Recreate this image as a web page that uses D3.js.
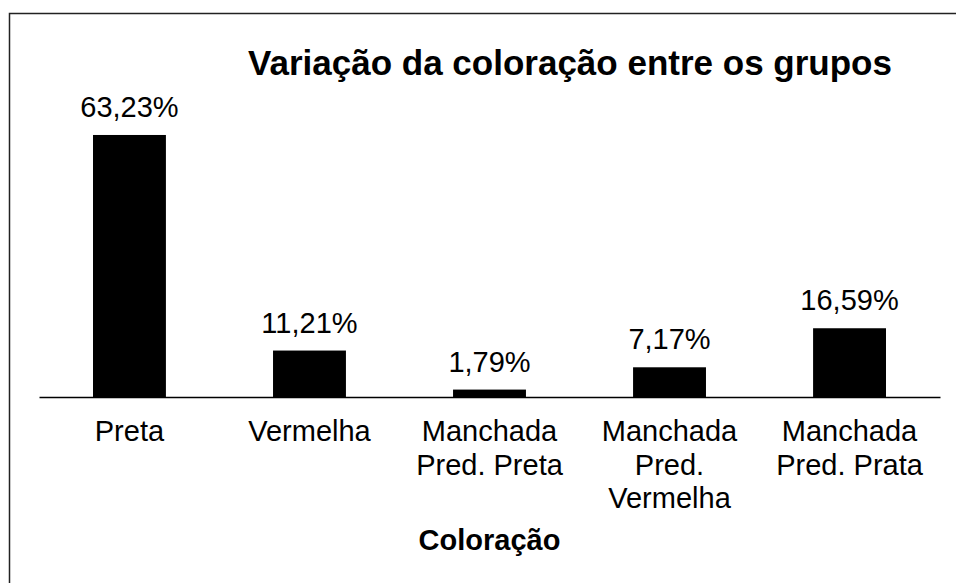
<!DOCTYPE html>
<html>
<head>
<meta charset="utf-8">
<script src="https://cdn.jsdelivr.net/npm/d3@7"></script>
<style>
  body { margin: 0; background: #fff; }
  svg text { font-family: Arial, "Liberation Sans", sans-serif; fill: #000; }
</style>
</head>
<body>
<script>
// data
const categories = ['Preta', 'Vermelha', 'Manchada Pred. Preta', 'Manchada Pred. Vermelha', 'Manchada Pred. Prata'];
const categoryLines = [['Preta'], ['Vermelha'], ['Manchada', 'Pred. Preta'], ['Manchada', 'Pred.', 'Vermelha'], ['Manchada', 'Pred. Prata']];
const values = [63.23, 11.21, 1.79, 7.17, 16.59];
const valueLabels = ['63,23%', '11,21%', '1,79%', '7,17%', '16,59%'];
const title = 'Variação da coloração entre os grupos';
const xTitle = 'Coloração';

const width = 956;
const height = 583;

const svg = d3.select('body').append('svg')
  .attr('width', width)
  .attr('height', height);

// outer frame (runs off the right/bottom edge like the original)
svg.append('rect')
  .attr('x', 9.5)
  .attr('y', 13.5)
  .attr('width', 1000)
  .attr('height', 700)
  .attr('fill', 'none')
  .attr('stroke', '#222')
  .attr('stroke-width', 1.5);

const x = d3.scaleBand()
  .domain(categories)
  .range([39, 940])
  .paddingInner(0.595)
  .paddingOuter(0.3);

const y = d3.scaleLinear()
  .domain([0, 70])
  .range([397, 397 - 70 * 4.144]);

// bars
svg.append('g')
  .selectAll('rect')
  .data(values)
  .join('rect')
  .attr('x', (d, i) => x(categories[i]))
  .attr('y', d => y(d))
  .attr('width', x.bandwidth())
  .attr('height', d => y(0) - y(d))
  .attr('fill', '#000');

// value labels
svg.append('g')
  .selectAll('text')
  .data(values)
  .join('text')
  .attr('x', (d, i) => x(categories[i]) + x.bandwidth() / 2)
  .attr('y', d => y(d) - 18)
  .attr('text-anchor', 'middle')
  .style('font-size', '29px')
  .text((d, i) => valueLabels[i]);

// baseline axis
const axis = svg.append('g')
  .attr('transform', 'translate(0,' + y(0) + ')')
  .call(d3.axisBottom(x).tickSize(0).tickFormat(''));
axis.select('.domain')
  .attr('stroke', '#000')
  .attr('stroke-width', 1.5);

// category labels, wrapped
const cat = svg.append('g')
  .selectAll('text')
  .data(categories)
  .join('text')
  .attr('text-anchor', 'middle')
  .style('font-size', '29px');
cat.each(function (d, i) {
  const cx = x(d) + x.bandwidth() / 2;
  d3.select(this).selectAll('tspan')
    .data(categoryLines[i])
    .join('tspan')
    .attr('x', cx)
    .attr('y', (l, j) => 441 + j * 33.5)
    .text(l => l);
});

// titles
svg.append('text')
  .attr('x', 570)
  .attr('y', 75)
  .attr('text-anchor', 'middle')
  .style('font-size', '35px')
  .style('font-weight', 'bold')
  .text(title);

svg.append('text')
  .attr('x', (39 + 940) / 2)
  .attr('y', 550)
  .attr('text-anchor', 'middle')
  .style('font-size', '29px')
  .style('font-weight', 'bold')
  .text(xTitle);
</script>
</body>
</html>
